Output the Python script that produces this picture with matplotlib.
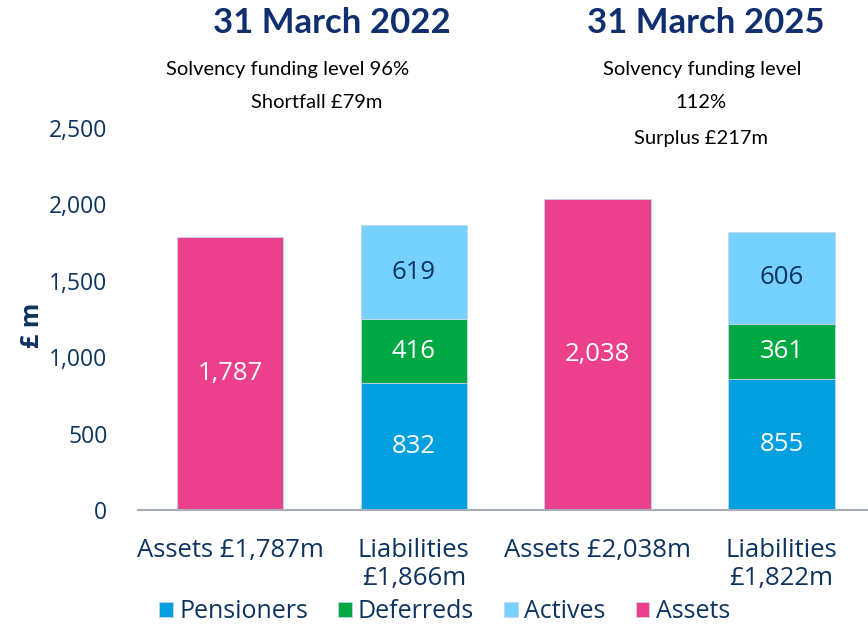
import matplotlib.pyplot as plt
import numpy as np

plt.rcParams["font.family"] = ["Open Sans", "DejaVu Sans"]

categories = ["Assets £1,787m", "Liabilities\n£1,866m", "Assets £2,038m", "Liabilities\n£1,822m"]
assets = [1787, 0, 2038, 0]
pensioners = [0, 832, 0, 855]
deferreds = [0, 416, 0, 361]
actives = [0, 619, 0, 606]

NAVY = "#0d3461"
C_ASSETS = "#ec3f8c"
C_PENS = "#009fe0"
C_DEF = "#00a843"
C_ACT = "#77d1ff"

fig = plt.figure(figsize=(8.68, 6.28), dpi=100)
ax = fig.add_axes([0.159, 0.188, 0.841, 0.608])

x = np.arange(len(categories))
w = 0.58
edge = dict(edgecolor="#c9d3e6", linewidth=0.6)

b_p = ax.bar(x, pensioners, w, color=C_PENS, label="Pensioners", **edge)
b_d = ax.bar(x, deferreds, w, bottom=pensioners, color=C_DEF, label="Deferreds", **edge)
bot2 = np.array(pensioners) + np.array(deferreds)
b_a = ax.bar(x, actives, w, bottom=bot2, color=C_ACT, label="Actives", **edge)
b_s = ax.bar(x, assets, w, color=C_ASSETS, label="Assets", **edge)

def label(bars, vals, bottoms, color):
    for b, v, bt in zip(bars, vals, bottoms):
        if v:
            ax.text(b.get_x() + b.get_width() / 2, bt + v / 2, f"{v:,}",
                    ha="center", va="center", color=color, fontsize=18.5)

label(b_p, pensioners, [0] * 4, "white")
label(b_d, deferreds, pensioners, "white")
label(b_a, actives, bot2, NAVY)
label(b_s, assets, [0] * 4, "white")

ax.set_ylim(0, 2500)
ax.set_xlim(-0.5, 3.47)
ax.set_yticks(range(0, 2501, 500))
ax.set_yticklabels([f"{v:,}" for v in range(0, 2501, 500)])
ax.set_xticks(x)
ax.set_xticklabels(categories, linespacing=1.15, fontsize=18.5)
ax.tick_params(axis="both", length=0, colors=NAVY)
ax.tick_params(axis="y", pad=22, labelsize=16.5)
ax.tick_params(axis="x", pad=20)
for s in ["top", "right", "left"]:
    ax.spines[s].set_visible(False)
ax.spines["bottom"].set_color("#a6adb8")
ax.spines["bottom"].set_linewidth(1.5)

fig.text(0.037, 0.482, "£ m", rotation=90, ha="center", va="center",
         fontsize=18, fontweight="bold", color=NAVY)

# headings
title_kw = dict(ha="center", va="center", fontsize=25, fontweight="bold",
                color="#0f2f6e", family=["Lato", "DejaVu Sans"])
sub_kw = dict(ha="center", va="center", fontsize=14.5, color="black",
              family=["Lato", "DejaVu Sans"])
fig.text(332 / 868, 1 - 23 / 628, "31 March 2022", **title_kw)
fig.text(288 / 868, 1 - 70 / 628, "Solvency funding level 96%", **sub_kw)
fig.text(317 / 868, 1 - 103 / 628, "Shortfall £79m", **sub_kw)
fig.text(706 / 868, 1 - 23 / 628, "31 March 2025", **title_kw)
fig.text(702 / 868, 1 - 70 / 628, "Solvency funding level", **sub_kw)
fig.text(701 / 868, 1 - 103 / 628, "112%", **sub_kw)
fig.text(701 / 868, 1 - 138 / 628, "Surplus £217m", **sub_kw)

leg = fig.legend(handles=[b_p, b_d, b_a, b_s], loc="center", ncol=4,
                 bbox_to_anchor=(0.512, 1 - 612 / 628), frameon=False,
                 fontsize=18, handlelength=0.55, handleheight=0.55,
                 handletextpad=0.25, columnspacing=1.2)
for t in leg.get_texts():
    t.set_color(NAVY)

fig.savefig("out.png", dpi=100)
